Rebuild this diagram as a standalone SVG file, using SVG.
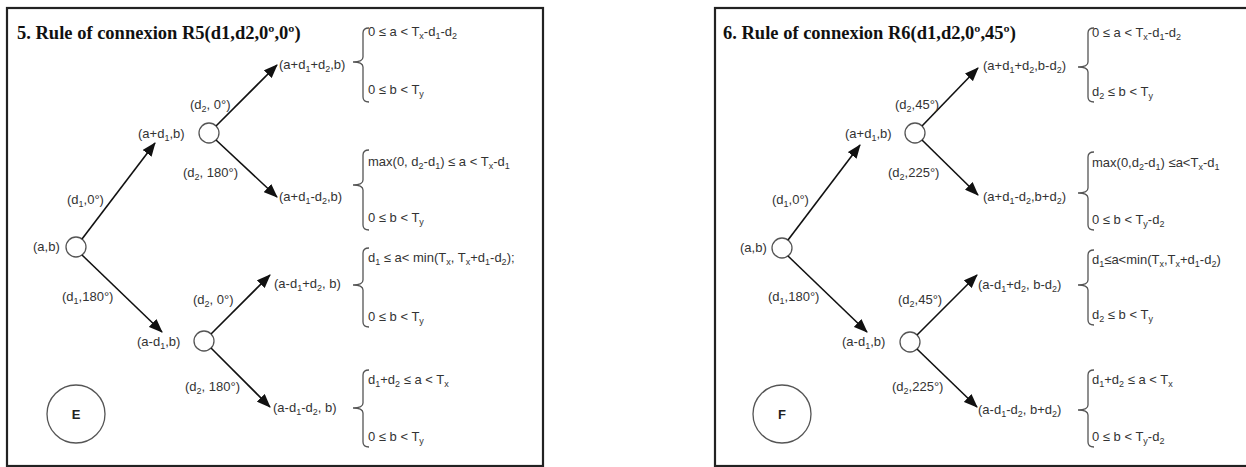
<svg xmlns="http://www.w3.org/2000/svg" width="1246" height="467" viewBox="0 0 1246 467">
<defs>
<style>
.panel{fill:#fff;stroke:#222;stroke-width:2.2}
.title{font-family:"Liberation Serif",serif;font-weight:bold;font-size:18.5px;fill:#111}
.t{font-family:"Liberation Sans",Arial,sans-serif;font-size:13px;fill:#333}
.s{font-size:9px;baseline-shift:-3px}
.node{fill:#fff;stroke:#555;stroke-width:1.3}
.big{fill:#fff;stroke:#555;stroke-width:1.3}
.lbl{font-family:"Liberation Sans",Arial,sans-serif;font-size:13px;font-weight:bold;fill:#222}
.edge{stroke:#111;stroke-width:1.6;fill:none;marker-end:url(#ah)}
.brace{stroke:#555;stroke-width:1.3;fill:none}
</style>
<marker id="ah" markerWidth="14" markerHeight="11" refX="13" refY="5.5" orient="auto" markerUnits="userSpaceOnUse"><path d="M0,0 L14,5.5 L0,11 z" fill="#111"/></marker>
</defs>
<rect width="1246" height="467" fill="#fff"/>

<!-- Left panel -->
<g id="panelE">
<rect class="panel" x="7" y="8" width="536" height="458"/>
<text class="title" x="17" y="39">5. Rule of connexion R5(d1,d2,0º,0º)</text>
</g>
<g id="E-root"><circle class="node" cx="76" cy="247" r="10"/><text class="t" x="33" y="251">(a,b)</text></g>
<g id="E-n1"><circle class="node" cx="209" cy="133" r="10"/><text class="t" x="138" y="138">(a+d<tspan class="s">1</tspan>,b)</text></g>
<g id="E-n2"><circle class="node" cx="204" cy="341" r="10"/><text class="t" x="137" y="346">(a-d<tspan class="s">1</tspan>,b)</text></g>
<g id="E-badge"><circle class="big" cx="76" cy="414" r="29"/><text class="lbl" x="76" y="419" text-anchor="middle">E</text></g>
<g id="E-leaf1"><text class="t" x="279" y="69">(a+d<tspan class="s">1</tspan>+d<tspan class="s">2</tspan>,b)</text>
<path class="brace" d="M369 28 Q363 28 363 33 L363 57 Q363 62 353 62 Q363 62 363 67 L363 97 Q363 102 369 102"/>
<text class="t" x="368" y="36">0 ≤ a &lt; T<tspan class="s">x</tspan>-d<tspan class="s">1</tspan>-d<tspan class="s">2</tspan></text>
<text class="t" x="368" y="94">0 ≤ b &lt; T<tspan class="s">y</tspan></text></g>
<g id="E-leaf2"><text class="t" x="279" y="201">(a+d<tspan class="s">1</tspan>-d<tspan class="s">2</tspan>,b)</text>
<path class="brace" d="M369 150 Q363 150 363 155 L363 180 Q363 185 353 185 Q363 185 363 190 L363 225 Q363 230 369 230"/>
<text class="t" x="368" y="166">max(0, d<tspan class="s">2</tspan>-d<tspan class="s">1</tspan>) ≤ a &lt; T<tspan class="s">x</tspan>-d<tspan class="s">1</tspan></text>
<text class="t" x="368" y="222">0 ≤ b &lt; T<tspan class="s">y</tspan></text></g>
<g id="E-leaf3"><text class="t" x="274" y="288">(a-d<tspan class="s">1</tspan>+d<tspan class="s">2</tspan>, b)</text>
<path class="brace" d="M369 248 Q363 248 363 253 L363 280 Q363 285 353 285 Q363 285 363 290 L363 322 Q363 327 369 327"/>
<text class="t" x="368" y="262">d<tspan class="s">1</tspan> ≤ a&lt; min(T<tspan class="s">x</tspan>, T<tspan class="s">x</tspan>+d<tspan class="s">1</tspan>-d<tspan class="s">2</tspan>);</text>
<text class="t" x="368" y="321">0 ≤ b &lt; T<tspan class="s">y</tspan></text></g>
<g id="E-leaf4"><text class="t" x="273" y="412">(a-d<tspan class="s">1</tspan>-d<tspan class="s">2</tspan>, b)</text>
<path class="brace" d="M369 370 Q363 370 363 375 L363 403 Q363 408 353 408 Q363 408 363 413 L363 442 Q363 447 369 447"/>
<text class="t" x="368" y="384">d<tspan class="s">1</tspan>+d<tspan class="s">2</tspan> ≤ a &lt; T<tspan class="s">x</tspan></text>
<text class="t" x="368" y="441">0 ≤ b &lt; T<tspan class="s">y</tspan></text></g>

<!-- Right panel -->
<g id="panelF">
<rect class="panel" x="715" y="8" width="545" height="458"/>
<text class="title" x="723" y="39">6. Rule of connexion R6(d1,d2,0º,45º)</text>
</g>
<g id="F-root"><circle class="node" cx="782" cy="248" r="10"/><text class="t" x="740" y="252">(a,b)</text></g>
<g id="F-n1"><circle class="node" cx="915" cy="133" r="10"/><text class="t" x="845" y="138">(a+d<tspan class="s">1</tspan>,b)</text></g>
<g id="F-n2"><circle class="node" cx="910" cy="342" r="10"/><text class="t" x="842" y="346">(a-d<tspan class="s">1</tspan>,b)</text></g>
<g id="F-badge"><circle class="big" cx="782" cy="414" r="29"/><text class="lbl" x="782" y="419" text-anchor="middle">F</text></g>
<g id="F-leaf1"><text class="t" x="983" y="70">(a+d<tspan class="s">1</tspan>+d<tspan class="s">2</tspan>,b-d<tspan class="s">2</tspan>)</text>
<path class="brace" d="M1094 28 Q1088 28 1088 33 L1088 62 Q1088 67 1078 67 Q1088 67 1088 72 L1088 97 Q1088 102 1094 102"/>
<text class="t" x="1092" y="37">0 ≤ a &lt; T<tspan class="s">x</tspan>-d<tspan class="s">1</tspan>-d<tspan class="s">2</tspan></text>
<text class="t" x="1092" y="96">d<tspan class="s">2</tspan>  ≤ b &lt; T<tspan class="s">y</tspan></text></g>
<g id="F-leaf2"><text class="t" x="983" y="201">(a+d<tspan class="s">1</tspan>-d<tspan class="s">2</tspan>,b+d<tspan class="s">2</tspan>)</text>
<path class="brace" d="M1094 152 Q1088 152 1088 157 L1088 188 Q1088 193 1078 193 Q1088 193 1088 198 L1088 225 Q1088 230 1094 230"/>
<text class="t" x="1092" y="167">max(0,d<tspan class="s">2</tspan>-d<tspan class="s">1</tspan>) ≤a&lt;T<tspan class="s">x</tspan>-d<tspan class="s">1</tspan></text>
<text class="t" x="1092" y="224">0 ≤ b &lt; T<tspan class="s">y</tspan>-d<tspan class="s">2</tspan></text></g>
<g id="F-leaf3"><text class="t" x="978" y="289">(a-d<tspan class="s">1</tspan>+d<tspan class="s">2</tspan>, b-d<tspan class="s">2</tspan>)</text>
<path class="brace" d="M1094 250 Q1088 250 1088 255 L1088 280 Q1088 285 1078 285 Q1088 285 1088 290 L1088 320 Q1088 325 1094 325"/>
<text class="t" x="1092" y="264">d<tspan class="s">1</tspan>≤a&lt;min(T<tspan class="s">x</tspan>,T<tspan class="s">x</tspan>+d<tspan class="s">1</tspan>-d<tspan class="s">2</tspan>)</text>
<text class="t" x="1092" y="319">d<tspan class="s">2</tspan> ≤ b &lt; T<tspan class="s">y</tspan></text></g>
<g id="F-leaf4"><text class="t" x="978" y="414">(a-d<tspan class="s">1</tspan>-d<tspan class="s">2</tspan>, b+d<tspan class="s">2</tspan>)</text>
<path class="brace" d="M1094 370 Q1088 370 1088 375 L1088 405 Q1088 410 1078 410 Q1088 410 1088 415 L1088 442 Q1088 447 1094 447"/>
<text class="t" x="1092" y="384">d<tspan class="s">1</tspan>+d<tspan class="s">2</tspan> ≤ a &lt; T<tspan class="s">x</tspan></text>
<text class="t" x="1092" y="441">0 ≤ b &lt; T<tspan class="s">y</tspan>-d<tspan class="s">2</tspan></text></g>

<!-- Connectors -->
<g id="connectors">
<line class="edge" x1="82" y1="239" x2="155" y2="143"/>
<line class="edge" x1="82" y1="255" x2="162" y2="332"/>
<line class="edge" x1="216" y1="126" x2="277" y2="65"/>
<line class="edge" x1="216" y1="140" x2="277" y2="197"/>
<line class="edge" x1="211" y1="334" x2="270" y2="275"/>
<line class="edge" x1="211" y1="348" x2="270" y2="407"/>
<line class="edge" x1="788" y1="240" x2="860" y2="145"/>
<line class="edge" x1="788" y1="256" x2="867" y2="332"/>
<line class="edge" x1="922" y1="126" x2="978" y2="68"/>
<line class="edge" x1="922" y1="140" x2="978" y2="195"/>
<line class="edge" x1="917" y1="335" x2="977" y2="275"/>
<line class="edge" x1="917" y1="349" x2="977" y2="407"/>
</g>
<g id="edge-labels">
<text class="t" x="67" y="204">(d<tspan class="s">1</tspan>,0°)</text>
<text class="t" x="62" y="301">(d<tspan class="s">1</tspan>,180°)</text>
<text class="t" x="190" y="109">(d<tspan class="s">2</tspan>, 0°)</text>
<text class="t" x="183" y="177">(d<tspan class="s">2</tspan>, 180°)</text>
<text class="t" x="193" y="304">(d<tspan class="s">2</tspan>, 0°)</text>
<text class="t" x="185" y="391">(d<tspan class="s">2</tspan>, 180°)</text>
<text class="t" x="772" y="204">(d<tspan class="s">1</tspan>,0°)</text>
<text class="t" x="768" y="301">(d<tspan class="s">1</tspan>,180°)</text>
<text class="t" x="895" y="109">(d<tspan class="s">2</tspan>,45°)</text>
<text class="t" x="888" y="177">(d<tspan class="s">2</tspan>,225°)</text>
<text class="t" x="898" y="304">(d<tspan class="s">2</tspan>,45°)</text>
<text class="t" x="892" y="391">(d<tspan class="s">2</tspan>,225°)</text>
</g>
</svg>
